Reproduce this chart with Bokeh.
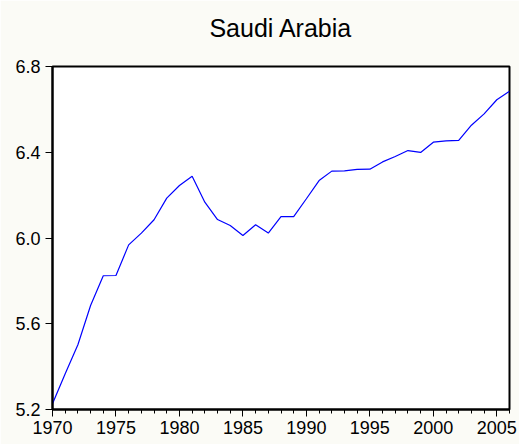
from bokeh.plotting import figure
from bokeh.models import FixedTicker, NumeralTickFormatter, Range1d, Title
from bokeh.embed import file_html
from bokeh.resources import INLINE

years = list(range(1970, 2007))
values = [5.227, 5.367, 5.502, 5.685, 5.824, 5.825, 5.968, 6.023, 6.085, 6.186,
          6.245, 6.288, 6.167, 6.086, 6.058, 6.012, 6.062, 6.023, 6.100, 6.100,
          6.183, 6.268, 6.312, 6.313, 6.320, 6.321, 6.355, 6.380, 6.408, 6.399,
          6.447, 6.453, 6.455, 6.526, 6.579, 6.645, 6.685]
x_major = [1970, 1975, 1980, 1985, 1990, 1995, 2000, 2005]
y_major = [5.2, 5.6, 6.0, 6.4, 6.8]
title_text = "Saudi Arabia"

FONT = "Liberation Sans"

p = figure(width=519, height=444, output_backend="svg", toolbar_location=None,
           x_range=Range1d(1970, 2006), y_range=Range1d(5.2, 6.8),
           min_border_left=52, min_border_right=10, min_border_top=66, min_border_bottom=35,
           title=None)

p.line(years, values, line_color="#0000ff", line_width=1.2)

p.background_fill_color = "white"
p.border_fill_color = "#fbfbf6"
p.outline_line_color = "black"
p.outline_line_width = 2
p.grid.visible = False

# spacer between frame and title (closest to the frame)
p.add_layout(Title(text=" ", text_font_size="1px", standoff=22), "above")
p.add_layout(Title(text=title_text, align="center", text_font=FONT,
                   text_font_size="25px", text_font_style="normal",
                   text_color="black", standoff=0), "above")

xa = p.xaxis[0]
xa.ticker = FixedTicker(ticks=x_major, minor_ticks=years)
ya = p.yaxis[0]
ya.ticker = FixedTicker(ticks=y_major, minor_ticks=[])
ya.formatter = NumeralTickFormatter(format="0.0")

for ax in (xa, ya):
    ax.axis_line_width = 2
    ax.axis_line_color = "black"
    ax.major_tick_in = 0
    ax.major_tick_out = 7
    ax.minor_tick_in = 0
    ax.minor_tick_out = 4
    ax.major_tick_line_color = "black"
    ax.minor_tick_line_color = "black"
    ax.major_label_text_font = FONT
    ax.major_label_text_font_size = "18px"
    ax.major_label_text_color = "black"

xa.major_label_standoff = 4
ya.major_label_standoff = 5

open("out.html", "w").write(file_html(p, INLINE))
